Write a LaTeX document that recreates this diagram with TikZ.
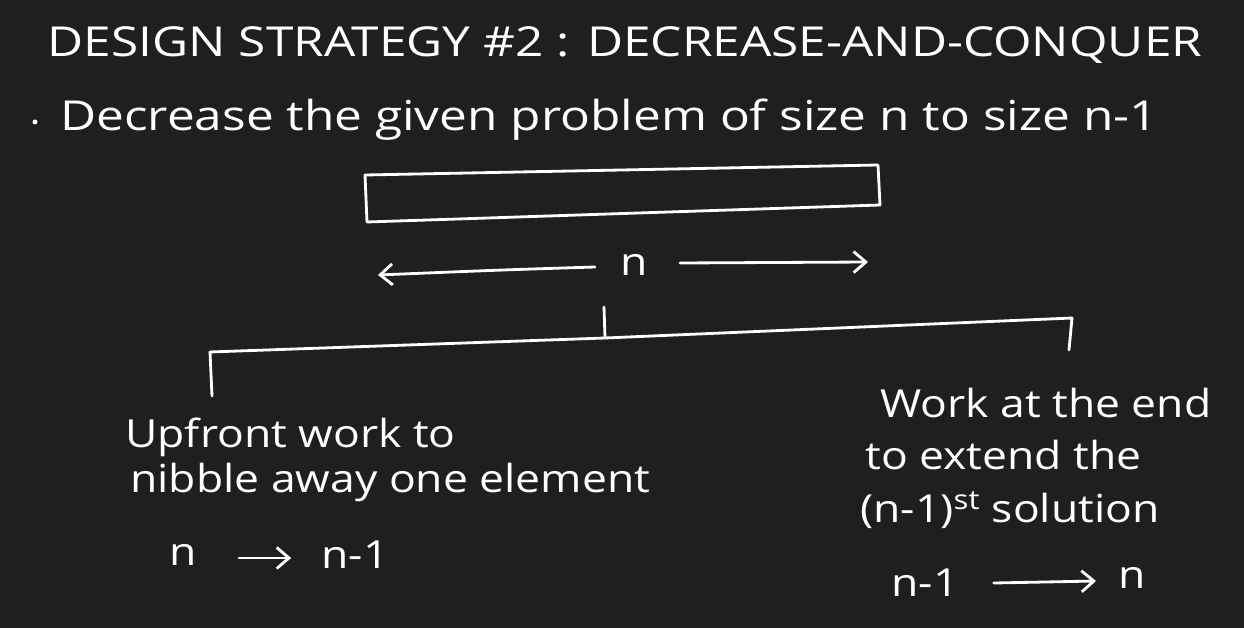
\documentclass[tikz,border=0pt]{standalone}
\usepackage{fontspec}
\setmainfont{Open Sans}
\newfontfamily\wideA{Open Sans}[FakeStretch=1.2]
\newfontfamily\wideB{Open Sans}[FakeStretch=1.15]
\usetikzlibrary{arrows.meta,calc}
\definecolor{bg}{HTML}{211F1E}
\begin{document}
\begin{tikzpicture}[x=0.02cm,y=-0.02cm,
  ink/.style={draw=white,line width=1.6pt,line cap=round,line join=round},
  arr/.style={ink,-{Straight Barb[length=7pt,width=12pt,line width=1.6pt]}},
  txt/.style={text=white,inner sep=0pt,font=\wideB\fontsize{22}{26}\selectfont},
  big/.style={text=white,inner sep=0pt,font=\wideA\fontsize{23.5}{28}\selectfont}]
\fill[bg] (0,0) rectangle (1244,628);
\useasboundingbox (0,0) rectangle (1244,628);
% title
\node[big] (title) at (625,45) {DESIGN STRATEGY \#2 : DECREASE-AND-CONQUER};
\fill[white] (35,122) circle (2.5);
\node[big,anchor=west] (intro) at (60,120) {Decrease the given problem of size n to size n-1};
% rectangle
\draw[ink] (365,175) -- (878,165) -- (880,205) -- (367,222) -- cycle;
% n with arrows
\node[txt] (nlab) at (634,265) {n};
\coordinate (lend) at (378,275);
\coordinate (rend) at (868,262);
\draw[arr] ($(nlab.west)+(-25,2)$) .. controls (500,270) .. (lend);
\draw[arr] ($(nlab.east)+(32,-2)$) -- (rend);
% bracket
\coordinate (mtop) at (604,307);
\coordinate (mbot) at (605,338);
\coordinate (bl) at (210,352);
\coordinate (br) at (1072,318);
\draw[ink] (mtop) -- (mbot);
\draw[ink] (bl) -- (mbot) -- (br);
\draw[ink] (bl) -- (212,396);
\draw[ink] (br) -- (1069,350);
% left text
\node[txt,anchor=west] (l1) at (125,437) {Upfront work to};
\node[txt,anchor=west] (l2) at (130,482) {nibble away one element};
\node[txt] (la) at (183,555) {n};
\node[txt] (lb) at (355,555) {n-1};
\draw[arr] ($(la.east)+(42,3)$) -- ($(lb.west)+(-30,3)$);
% right text
\node[txt,anchor=west] (r1) at (880,403) {Work at the end};
\node[txt,anchor=west] (r2) at (865,455) {to extend the};
\node[txt,anchor=west] (r3) at (860,510) {(n-1)\textsuperscript{st} solution};
\node[txt] (ra) at (925,583) {n-1};
\node[txt] (rb) at (1132,578) {n};
\draw[arr] ($(ra.east)+(35,0)$) -- ($(rb.west)+(-22,3)$);
\end{tikzpicture}
\end{document}
